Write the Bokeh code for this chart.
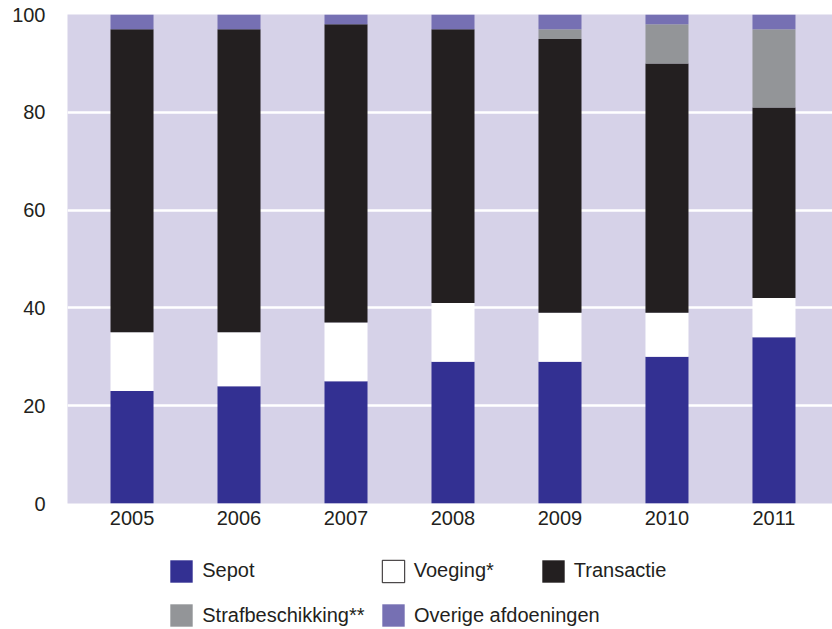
from bokeh.plotting import figure
from bokeh.layouts import column
from bokeh.models import Legend, LegendItem, FixedTicker, ColumnDataSource
from bokeh.embed import file_html
from bokeh.resources import INLINE

# ---- data ----
years = [2005, 2006, 2007, 2008, 2009, 2010, 2011]
sepot = [23, 24, 25, 29, 29, 30, 34]
voeging = [12, 11, 12, 12, 10, 9, 8]
transactie = [62, 62, 61, 56, 56, 51, 39]
strafbeschikking = [0, 0, 0, 0, 2, 8, 16]
overige = [3, 3, 2, 3, 3, 2, 3]
y_ticks = [0, 20, 40, 60, 80, 100]
series_keys = ["sepot", "voeging", "transactie", "straf", "overige"]
series_names = ["Sepot", "Voeging*", "Transactie", "Strafbeschikking**", "Overige afdoeningen"]
colors = ["#333092", "#ffffff", "#231f20", "#939598", "#7670b3"]

FONT = "Liberation Sans"
TXT = "#231f20"

src = ColumnDataSource(dict(year=years, sepot=sepot, voeging=voeging,
                            transactie=transactie, straf=strafbeschikking,
                            overige=overige))

p = figure(width=832, height=540,
           x_range=(2004.397, 2011.547), y_range=(0, 100),
           output_backend="svg", toolbar_location=None,
           min_border_left=67, min_border_right=0,
           min_border_top=14, min_border_bottom=37)

p.background_fill_color = "#d6d2e8"
p.border_fill_color = "white"
p.outline_line_color = None

p.vbar_stack(series_keys, x="year", width=0.402, source=src,
             color=colors, line_color=None)

# axes
p.xaxis.ticker = FixedTicker(ticks=years)
p.yaxis.ticker = FixedTicker(ticks=y_ticks)
for ax in (p.xaxis[0], p.yaxis[0]):
    ax.axis_line_color = None
    ax.major_tick_line_color = None
    ax.minor_tick_line_color = None
    ax.major_tick_out = 0
    ax.major_tick_in = 0
    ax.major_label_text_font = FONT
    ax.major_label_text_font_size = "20px"
    ax.major_label_text_color = TXT
p.xaxis.major_label_standoff = 7
p.yaxis.major_label_standoff = 22

p.xgrid.grid_line_color = None
p.ygrid.ticker = FixedTicker(ticks=y_ticks)
p.ygrid.grid_line_color = "white"
p.ygrid.grid_line_width = 2.5

# ---- legend strip below the chart ----
lg = figure(width=832, height=89, x_range=(0, 1), y_range=(0, 1),
            output_backend="svg", toolbar_location=None,
            x_axis_type=None, y_axis_type=None,
            min_border_left=0, min_border_right=0,
            min_border_top=0, min_border_bottom=0)
lg.outline_line_color = None
lg.xgrid.grid_line_color = None
lg.ygrid.grid_line_color = None

# legend positions relative to the (column-aligned) legend frame
legend_pos = [(100.25, 44.5), (311.75, 44.5), (471.75, 44.5),
              (100.25, 0), (312, 0)]
for name, col, loc in zip(series_names, colors, legend_pos):
    # key proxy: a bar kept outside the legend strip's visible range
    r = lg.vbar(x=[2], top=[0.5], width=0.4, fill_color=col,
                line_color=TXT if col == "#ffffff" else None, line_width=1)
    leg = Legend(items=[LegendItem(label=name, renderers=[r])],
                 location=loc, orientation="horizontal",
                 padding=0, margin=0, spacing=0,
                 border_line_color=None, background_fill_alpha=0,
                 glyph_width=28, glyph_height=28, label_standoff=7,
                 label_text_font=FONT, label_text_font_size="20px",
                 label_text_color=TXT)
    lg.add_layout(leg)

layout = column(p, lg, spacing=0)
open("out.html", "w").write(file_html(layout, INLINE))
